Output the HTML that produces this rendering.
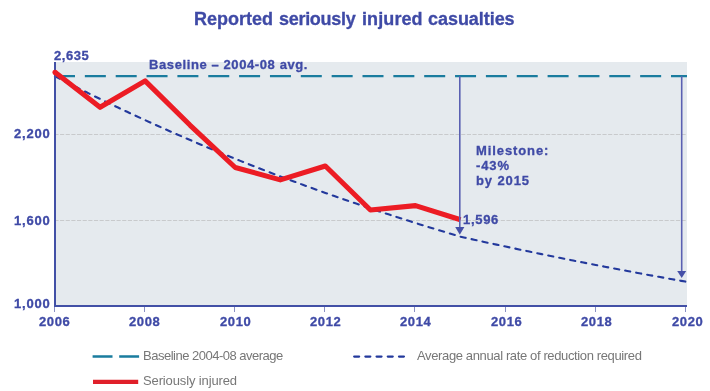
<!DOCTYPE html>
<html><head><meta charset="utf-8"><style>
html,body{margin:0;padding:0;background:#fff;}
body{width:710px;height:391px;overflow:hidden;position:relative;font-family:"Liberation Sans",sans-serif;}
svg{position:absolute;left:0;top:0;}
.t{position:absolute;white-space:nowrap;line-height:1;will-change:transform;}
.b{font-weight:bold;color:#3f4aa6;-webkit-text-stroke:0.3px #3f4aa6;}
.title{top:10px;font-size:18px;}
.lg{font-size:13px;color:#777777;letter-spacing:-0.45px;}
</style></head><body>
<svg width="710" height="391" viewBox="0 0 710 391">
  <rect x="56" y="62" width="631" height="243" fill="#e5eaee"/>
  <g stroke="#c8cacc" stroke-width="1" stroke-dasharray="4.15,1.5">
    <line x1="54.4" y1="134.5" x2="687" y2="134.5"/>
    <line x1="54.4" y1="220.5" x2="687" y2="220.5"/>
  </g>
  <line x1="54" y1="76.2" x2="687" y2="76.2" stroke="#1a7c9e" stroke-width="2.3" stroke-dasharray="21,9.85"/>
  <path d="M55.00,76.34 L59.51,78.66 L64.01,80.97 L68.52,83.27 L73.02,85.54 L77.53,87.81 L82.04,90.06 L86.54,92.30 L91.05,94.52 L95.55,96.73 L100.06,98.93 L104.57,101.11 L109.07,103.27 L113.58,105.43 L118.08,107.57 L122.59,109.70 L127.10,111.81 L131.60,113.91 L136.11,116.00 L140.61,118.08 L145.12,120.14 L149.63,122.19 L154.13,124.23 L158.64,126.25 L163.14,128.26 L167.65,130.26 L172.16,132.25 L176.66,134.22 L181.17,136.18 L185.67,138.13 L190.18,140.07 L194.69,141.99 L199.19,143.91 L203.70,145.81 L208.20,147.70 L212.71,149.58 L217.22,151.44 L221.72,153.30 L226.23,155.14 L230.73,156.97 L235.24,158.79 L239.75,160.60 L244.25,162.40 L248.76,164.18 L253.26,165.96 L257.77,167.72 L262.28,169.47 L266.78,171.22 L271.29,172.95 L275.79,174.67 L280.30,176.38 L284.81,178.08 L289.31,179.76 L293.82,181.44 L298.32,183.11 L302.83,184.77 L307.34,186.41 L311.84,188.05 L316.35,189.68 L320.85,191.29 L325.36,192.90 L329.87,194.49 L334.37,196.08 L338.88,197.66 L343.38,199.22 L347.89,200.78 L352.40,202.33 L356.90,203.86 L361.41,205.39 L365.91,206.91 L370.42,208.42 L374.93,209.92 L379.43,211.41 L383.94,212.89 L388.44,214.36 L392.95,215.82 L397.46,217.27 L401.96,218.72 L406.47,220.15 L410.97,221.58 L415.48,223.00 L419.99,224.41 L424.49,225.80 L429.00,227.20 L433.50,228.58 L438.01,229.95 L442.52,231.32 L447.02,232.67 L451.53,234.02 L456.03,235.36 L460.54,236.69 L465.05,237.70 L469.55,238.70 L474.06,239.70 L478.56,240.70 L483.07,241.69 L487.58,242.67 L492.08,243.65 L496.59,244.63 L501.09,245.60 L505.60,246.56 L510.11,247.53 L514.61,248.48 L519.12,249.44 L523.62,250.38 L528.13,251.33 L532.64,252.27 L537.14,253.20 L541.65,254.13 L546.15,255.06 L550.66,255.98 L555.17,256.89 L559.67,257.81 L564.18,258.72 L568.68,259.62 L573.19,260.52 L577.70,261.41 L582.20,262.31 L586.71,263.19 L591.21,264.08 L595.72,264.95 L600.23,265.83 L604.73,266.70 L609.24,267.56 L613.74,268.43 L618.25,269.28 L622.76,270.14 L627.26,270.99 L631.77,271.83 L636.27,272.67 L640.78,273.51 L645.29,274.35 L649.79,275.17 L654.30,276.00 L658.80,276.82 L663.31,277.64 L667.82,278.45 L672.32,279.26 L676.83,280.07 L681.33,280.87 L685.84,281.67" fill="none" stroke="#23399c" stroke-width="2.1" stroke-linecap="round" stroke-dasharray="5.2,6"/>
  <g fill="#4250a6">
    <rect x="54" y="62" width="2" height="245"/>
    <rect x="54" y="305" width="633" height="2"/>
  </g>
  <path d="M55.00,72.20 L100.06,107.30 L145.12,80.90 L190.18,125.30 L235.24,167.50 L280.30,179.90 L325.36,166.00 L370.42,210.00 L415.48,205.60 L460.54,219.80" fill="none" stroke="#ec1c24" stroke-width="5.1" stroke-linejoin="round" stroke-linecap="butt"/>
  <circle cx="55.00" cy="72.2" r="2.55" fill="#ec1c24"/>
  <g stroke="#5a60b2" stroke-width="1.6">
    <line x1="459.8" y1="76.2" x2="459.8" y2="228"/>
    <line x1="681.7" y1="76.2" x2="681.7" y2="271"/>
  </g>
  <g fill="#4650a8">
    <path d="M455.2,227.1 L464.4,227.1 L459.8,234.8 Z"/>
    <path d="M677.2,270.9 L686.2,270.9 L681.7,277.9 Z"/>
  </g>
  <g stroke="#8a90c4" stroke-width="1">
    <line x1="54.5" y1="307" x2="54.5" y2="312"/><line x1="144.5" y1="307" x2="144.5" y2="312"/><line x1="234.5" y1="307" x2="234.5" y2="312"/><line x1="324.5" y1="307" x2="324.5" y2="312"/><line x1="414.5" y1="307" x2="414.5" y2="312"/><line x1="505.5" y1="307" x2="505.5" y2="312"/><line x1="595.5" y1="307" x2="595.5" y2="312"/><line x1="685.5" y1="307" x2="685.5" y2="312"/>
  </g>
  <line x1="92.6" y1="356.5" x2="139.1" y2="356.5" stroke="#1a7c9e" stroke-width="2.3" stroke-dasharray="19.9,6.7"/>
  <line x1="354.2" y1="356.6" x2="404.1" y2="356.6" stroke="#23399c" stroke-width="2.3" stroke-linecap="round" stroke-dasharray="4.9,6.3"/>
  <line x1="93" y1="381.9" x2="138.2" y2="381.9" stroke="#e0202a" stroke-width="4.4"/>
</svg>
<div class="t b title" style="left:193.6px;">Reported</div>
<div class="t b title" style="left:279.2px;letter-spacing:-0.3px;">seriously</div>
<div class="t b title" style="left:362.4px;letter-spacing:0.1px;">injured</div>
<div class="t b title" style="left:427.6px;letter-spacing:-0.05px;">casualties</div>
<div class="t b" style="left:54px;top:48.7px;font-size:13px;letter-spacing:0.55px;">2,635</div>
<div class="t b" style="left:148.6px;top:57.6px;font-size:13px;letter-spacing:0.6px;">Baseline – 2004-08 avg.</div>
<div class="t b" style="left:13.8px;top:127px;font-size:13px;letter-spacing:0.8px;">2,200</div>
<div class="t b" style="left:13.8px;top:213.5px;font-size:13px;letter-spacing:0.8px;">1,600</div>
<div class="t b" style="left:13.8px;top:297px;font-size:13px;letter-spacing:0.8px;">1,000</div>
<div class="t b" style="left:476.2px;top:143.4px;font-size:13px;line-height:15px;letter-spacing:0.9px;">Milestone:<br>-43%<br>by 2015</div>
<div class="t b" style="left:463.4px;top:213px;font-size:13px;letter-spacing:0.7px;">1,596</div>
<div class="t b" style="left:34.00px;top:315.2px;font-size:13px;width:40px;text-align:center;letter-spacing:0.6px;text-indent:1.4px;">2006</div><div class="t b" style="left:124.36px;top:315.2px;font-size:13px;width:40px;text-align:center;letter-spacing:0.6px;text-indent:1.4px;">2008</div><div class="t b" style="left:214.73px;top:315.2px;font-size:13px;width:40px;text-align:center;letter-spacing:0.6px;text-indent:1.4px;">2010</div><div class="t b" style="left:305.09px;top:315.2px;font-size:13px;width:40px;text-align:center;letter-spacing:0.6px;text-indent:1.4px;">2012</div><div class="t b" style="left:395.45px;top:315.2px;font-size:13px;width:40px;text-align:center;letter-spacing:0.6px;text-indent:1.4px;">2014</div><div class="t b" style="left:485.81px;top:315.2px;font-size:13px;width:40px;text-align:center;letter-spacing:0.6px;text-indent:1.4px;">2016</div><div class="t b" style="left:576.18px;top:315.2px;font-size:13px;width:40px;text-align:center;letter-spacing:0.6px;text-indent:1.4px;">2018</div><div class="t b" style="left:666.54px;top:315.2px;font-size:13px;width:40px;text-align:center;letter-spacing:0.6px;text-indent:1.4px;">2020</div>
<div class="t lg" style="left:143.2px;top:348.5px;letter-spacing:-0.5px;">Baseline 2004-08 average</div>
<div class="t lg" style="left:416.5px;top:348.5px;letter-spacing:-0.37px;">Average annual rate of reduction required</div>
<div class="t lg" style="left:143px;top:374px;letter-spacing:-0.13px;">Seriously injured</div>
</body></html>
